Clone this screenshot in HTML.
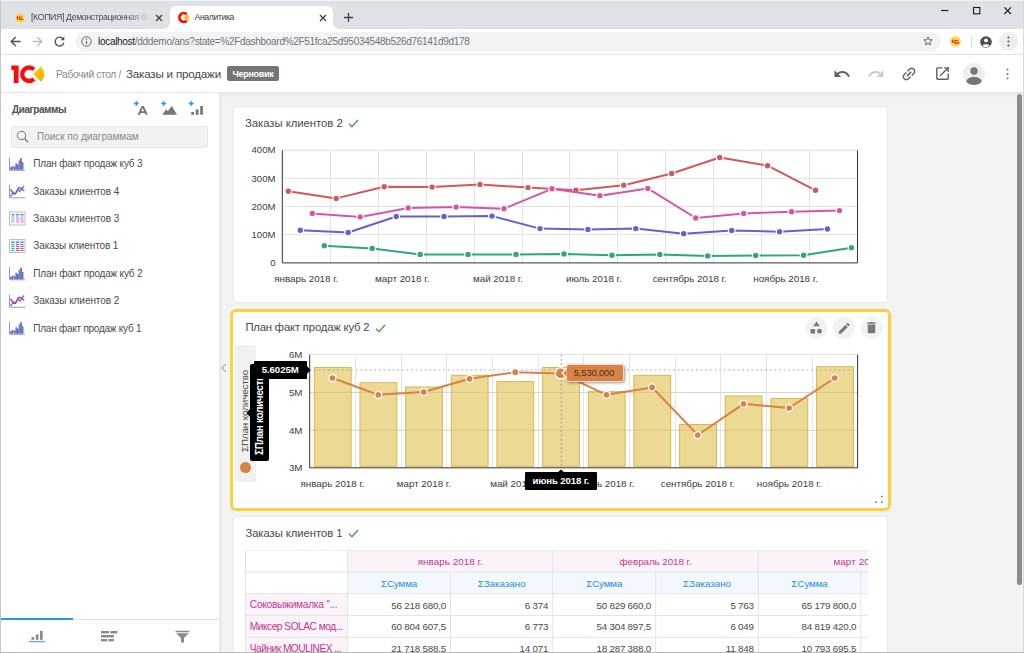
<!DOCTYPE html>
<html><head><meta charset="utf-8"><title>Аналитика</title>
<style>
*{box-sizing:border-box;margin:0;padding:0}
html,body{width:1024px;height:653px;overflow:hidden;background:#f3f3f3;font-family:"Liberation Sans",sans-serif;color:#444}
#win{position:absolute;left:0;top:0;width:1024px;height:653px;overflow:hidden;background:#f3f3f3}
.a{position:absolute}
.t{position:absolute;white-space:nowrap}
svg{position:absolute;overflow:visible}
.card{position:absolute;background:#fff;border:1px solid #e9e9e9;border-radius:3px}
</style></head><body><div id="win">
<!-- browser chrome -->
<div class="a" style="left:0;top:0;width:1024px;height:29px;background:#dee1e6"></div>
<div class="a" style="left:170px;top:6px;width:163px;height:24px;background:#fff;border-radius:6px 6px 0 0"></div>
<div class="a" style="left:164px;top:23px;width:6px;height:6px;background:radial-gradient(circle at 0 0,#dee1e6 5.5px,#fff 6px)"></div>
<div class="a" style="left:333px;top:23px;width:6px;height:6px;background:radial-gradient(circle at 100% 0,#dee1e6 5.5px,#fff 6px)"></div>
<svg style="left:15px;top:13px" width="10" height="10" viewBox="0 0 10 10"><circle cx="5" cy="5" r="4.6" fill="#fbd23c"/><circle cx="5" cy="5" r="4.6" fill="none" stroke="#f6e29a" stroke-width=".6"/><path d="M1.6 4.3l1-.5v2.6M6.9 4.6a1.4 1.4 0 1 0 0 1.6h1.6" fill="none" stroke="#e0241c" stroke-width="1.1"/></svg>
<span class="t" style="left:31.00px;top:12.45px;font-size:8.8px;line-height:11px;color:#4a4d51;letter-spacing:-0.389px;-webkit-mask-image:linear-gradient(90deg,#000 80%,transparent 100%);mask-image:linear-gradient(90deg,#000 80%,transparent 100%);">[КОПИЯ] Демонстрационная ба</span>
<svg style="left:155px;top:14px" width="8" height="8" viewBox="0 0 8 8"><path d="M1 1l6 6M7 1l-6 6" stroke="#3c4043" stroke-width="1.3" fill="none"/></svg>
<svg style="left:177px;top:11px" width="14" height="14" viewBox="0 0 14 14"><path d="M9.700 3.300A4.350 4.350 0 1 0 9.700 9.700" fill="none" stroke="#fa0a0a" stroke-width="2.700"/><path d="M6.300 6.500L10.800 2.900A6.200 6.200 0 0 1 10.800 10.100z" fill="#ffb914"/></svg>
<span class="t" style="left:194.50px;top:12.25px;font-size:8.8px;line-height:11px;color:#3c4043;letter-spacing:-0.451px;">Аналитика</span>
<svg style="left:319px;top:14px" width="8" height="8" viewBox="0 0 8 8"><path d="M1 1l6 6M7 1l-6 6" stroke="#3c4043" stroke-width="1.3" fill="none"/></svg>
<svg style="left:344.300px;top:13.300px" width="9" height="9" viewBox="0 0 9 9"><path d="M4.500 0v9M0 4.500h9" stroke="#3c4043" stroke-width="1.300" fill="none"/></svg>
<svg style="left:941px;top:6px" width="8" height="8" viewBox="0 0 8 8"><path d="M0 4.500h7.300" stroke="#1a1a1a" stroke-width="1.100" fill="none"/></svg>
<svg style="left:973px;top:7px" width="8" height="8" viewBox="0 0 8 8"><rect x=".5" y=".5" width="6.300" height="6.300" stroke="#1a1a1a" stroke-width="1.100" fill="none"/></svg>
<svg style="left:1004px;top:7px" width="8" height="8" viewBox="0 0 8 8"><path d="M.3 .3l6.700 6.700M7 .3l-6.700 6.700" stroke="#1a1a1a" stroke-width="1.100" fill="none"/></svg>
<div class="a" style="left:0;top:29px;width:1024px;height:26px;background:#fff;border-bottom:1px solid #e1e3e6"></div>
<div class="a" style="left:75px;top:32px;width:866px;height:19px;border-radius:10px;background:#f1f3f4"></div>
<svg style="left:10px;top:36px" width="11" height="11" viewBox="0 0 11 11"><path d="M10.5 5.500H1.500M5.700 1L1.200 5.500l4.500 4.500" stroke="#4a4d51" stroke-width="1.3" fill="none"/></svg>
<svg style="left:32px;top:36px" width="11" height="11" viewBox="0 0 11 11"><path d="M.5 5.500h9M5.300 1l4.500 4.500-4.500 4.500" stroke="#babcbe" stroke-width="1.3" fill="none"/></svg>
<svg style="left:54px;top:36px" width="11" height="11" viewBox="0 0 11 11"><path d="M9.300 3.200A4.400 4.400 0 1 0 9.900 6.600" stroke="#4a4d51" stroke-width="1.3" fill="none"/><path d="M10.300 .6v3.600H6.700z" fill="#4a4d51"/></svg>
<svg style="left:81px;top:36px" width="11" height="11" viewBox="0 0 11 11"><circle cx="5.500" cy="5.500" r="4.700" stroke="#5f6368" stroke-width="1" fill="none"/><path d="M5.500 4.800v3.200" stroke="#5f6368" stroke-width="1.200"/><circle cx="5.500" cy="3.200" r=".7" fill="#5f6368"/></svg>
<span class="t" style="left:98px;top:34.53px;font-size:10.0px;line-height:13px;letter-spacing:-0.296px;color:#70757a"><span style="color:#202124">localhost</span>/dddemo/ans?state=%2Fdashboard%2F51fca25d95034548b526d76141d9d178</span>
<svg style="left:922px;top:35px" width="12" height="12" viewBox="0 0 24 24"><path d="M22 9.240l-7.190-.62L12 2 9.190 8.630 2 9.240l5.460 4.730L5.820 21 12 17.270 18.180 21l-1.630-7.030L22 9.240zM12 15.400l-3.760 2.270 1-4.280-3.320-2.880 4.380-.38L12 6.100l1.710 4.040 4.380.38-3.320 2.880 1 4.280L12 15.400z" fill="#5f6368"/></svg>
<svg style="left:950px;top:36px" width="11" height="11" viewBox="0 0 10 10"><circle cx="5" cy="5" r="4.800" fill="#fbd64a"/><path d="M1.600 4.300l1-.5v2.600M6.900 4.600a1.400 1.400 0 1 0 0 1.600h1.600" fill="none" stroke="#e0241c" stroke-width="1.100"/></svg>
<div class="a" style="left:971px;top:36px;width:1px;height:11px;background:#dadce0"></div>
<svg style="left:980px;top:35.500px" width="12" height="12" viewBox="0 0 12 12"><circle cx="6" cy="6" r="5.800" fill="#4a4d51"/><circle cx="6" cy="4.400" r="1.900" fill="#fff"/><path d="M2.300 9.600a4.300 3 0 0 1 7.400 0A5.200 5.200 0 0 1 2.300 9.600z" fill="#fff"/></svg>
<div class="a" style="left:999px;top:32px;width:19px;height:19px;border-radius:10px;background:#eceef0"></div>
<svg style="left:1007px;top:36px" width="3" height="11" viewBox="0 0 3 11"><circle cx="1.500" cy="1.500" r="1.100" fill="#5f6368"/><circle cx="1.500" cy="5.500" r="1.100" fill="#5f6368"/><circle cx="1.500" cy="9.500" r="1.100" fill="#5f6368"/></svg>
<!-- app header -->
<div class="a" style="left:1px;top:55px;width:1022px;height:38px;background:#fff;border-bottom:1px solid #e4e4e4"></div>
<svg style="left:11px;top:64.500px" width="35" height="19" viewBox="0 0 35 19"><path d="M0.300 0.400H7.600V18.100H2.800V5H0.300z" fill="#fa0a0a"/><path d="M22.900 4.600A6.750 6.750 0 1 0 22.900 13.900" fill="none" stroke="#fa0a0a" stroke-width="4.300"/><defs><linearGradient id="lg" x1="0" y1="0" x2="0.300" y2="1"><stop offset="0" stop-color="#ffd400"/><stop offset="1" stop-color="#ffa600"/></linearGradient></defs><path d="M22.700 9L30 2A10.500 10.500 0 0 1 30 16.200z" fill="url(#lg)" stroke="url(#lg)" stroke-width="1" stroke-linejoin="round"/></svg>
<span class="t" style="left:56.00px;top:67.77px;font-size:10.2px;line-height:13px;color:#8a8a8a;letter-spacing:-0.335px;">Рабочий стол /</span>
<span class="t" style="left:126.00px;top:66.28px;font-size:11.6px;line-height:15px;color:#484848;letter-spacing:-0.192px;">Заказы и продажи</span>
<div class="a" style="left:227px;top:66px;width:52px;height:15px;border-radius:2px;background:#757575"></div>
<span class="t" style="left:232.50px;top:67.68px;font-size:9px;line-height:12px;color:#fff;font-weight:700;letter-spacing:-0.291px;">Черновик</span>
<svg style="left:833px;top:64.500px" width="18" height="18" viewBox="0 0 24 24"><path d="M12.500 8c-2.650 0-5.050.99-6.900 2.600L2 7v9h9l-3.620-3.620c1.390-1.160 3.160-1.880 5.120-1.880 3.540 0 6.550 2.310 7.600 5.500l2.370-.78C21.080 11.030 17.150 8 12.500 8z" fill="#616161"/></svg>
<svg style="left:867px;top:64.500px" width="18" height="18" viewBox="0 0 24 24"><path d="M18.400 10.600C16.550 8.990 14.150 8 11.500 8c-4.650 0-8.580 3.030-9.960 7.220L3.900 16c1.050-3.190 4.050-5.500 7.600-5.500 1.950 0 3.730.72 5.120 1.880L13 16h9V7l-3.600 3.600z" fill="#c9c9c9"/></svg>
<svg style="left:899.500px;top:64.800px" width="18" height="18" viewBox="0 0 24 24"><g transform="rotate(-45 12 12)"><path d="M3.900 12c0-1.710 1.390-3.100 3.100-3.100h4V7H7c-2.760 0-5 2.240-5 5s2.240 5 5 5h4v-1.900H7c-1.710 0-3.100-1.390-3.100-3.100zM8 13h8v-2H8v2zm9-6h-4v1.900h4c1.710 0 3.100 1.390 3.100 3.100s-1.390 3.100-3.100 3.100h-4V17h4c2.760 0 5-2.240 5-5s-2.240-5-5-5z" fill="#616161"/></g></svg>
<svg style="left:933.500px;top:64.700px" width="17" height="17" viewBox="0 0 24 24"><path d="M19 19H5V5h7V3H5c-1.110 0-2 .9-2 2v14c0 1.100.89 2 2 2h14c1.100 0 2-.9 2-2v-7h-2v7zM14 3v2h3.590l-9.830 9.830 1.410 1.410L19 6.410V10h2V3h-7z" fill="#616161"/></svg>
<svg style="left:963px;top:62.500px" width="22" height="22" viewBox="0 0 22 22"><defs><clipPath id="av"><circle cx="11" cy="11" r="11"/></clipPath></defs><circle cx="11" cy="11" r="11" fill="#eeeeee"/><g clip-path="url(#av)" fill="#757575"><circle cx="11" cy="8" r="3.700"/><ellipse cx="11" cy="19.300" rx="7.800" ry="5.600"/></g></svg>
<svg style="left:1005.500px;top:68px" width="3" height="12" viewBox="0 0 3 12"><circle cx="1.500" cy="1.600" r="1" fill="#757575"/><circle cx="1.500" cy="6" r="1" fill="#757575"/><circle cx="1.500" cy="10.400" r="1" fill="#757575"/></svg>
<!-- sidebar -->
<div class="a" style="left:219px;top:93px;width:805px;height:5px;background:linear-gradient(#e7e7e7,#f3f3f3)"></div>
<div class="a" style="left:219px;top:93px;width:4px;height:560px;background:linear-gradient(90deg,#e6e6e6,rgba(243,243,243,0))"></div>
<div class="a" style="left:1px;top:93px;width:218px;height:560px;background:#fff"></div>
<span class="t" style="left:12.00px;top:102.73px;font-size:10px;line-height:13px;color:#505050;font-weight:700;letter-spacing:-0.445px;">Диаграммы</span>
<svg style="left:0;top:0" width="220" height="130"><path d="M136.4 100.9L137.20000000000002 102.7L139.0 103.5L137.20000000000002 104.3L136.4 106.1L135.6 104.3L133.8 103.5L135.6 102.7z" fill="#2196f3" stroke="#2196f3" stroke-width=".5"/><path d="M163.7 100.9L164.5 102.7L166.29999999999998 103.5L164.5 104.3L163.7 106.1L162.89999999999998 104.3L161.1 103.5L162.89999999999998 102.7z" fill="#2196f3" stroke="#2196f3" stroke-width=".5"/><path d="M191.2 100.9L192.0 102.7L193.79999999999998 103.5L192.0 104.3L191.2 106.1L190.39999999999998 104.3L188.6 103.5L190.39999999999998 102.7z" fill="#2196f3" stroke="#2196f3" stroke-width=".5"/><path d="M137.600 114.800L141.600 106H143.800L147.800 114.800H145.500L144.700 112.900H140.700L139.900 114.800zM141.400 111.300H144L142.700 108.100z" fill="#757575"/><path d="M162.200 114.800L166.300 109.200L167.800 111.200L171.800 106.100L177 114.800z" fill="#757575"/><rect x="191.300" y="112" width="2.700" height="2.800" fill="#757575"/><rect x="195.800" y="109.400" width="2.700" height="5.400" fill="#757575"/><rect x="200.200" y="106" width="2.700" height="8.800" fill="#757575"/></svg>
<div class="a" style="left:11px;top:126px;width:197px;height:22px;border-radius:3px;background:#f2f2f2;border:1px solid #e8e8e8"></div>
<svg style="left:16px;top:130px" width="13" height="13" viewBox="0 0 13 13"><circle cx="5.500" cy="5.500" r="4.200" stroke="#757575" stroke-width="1" fill="none"/><path d="M8.600 8.600L12 12" stroke="#757575" stroke-width="1.400"/></svg>
<span class="t" style="left:37.00px;top:130.34px;font-size:10px;line-height:13px;color:#8a8a8a;letter-spacing:-0.036px;">Поиск по диаграммам</span>
<span class="t" style="left:33.30px;top:157.44px;font-size:10px;line-height:13px;color:#4c4c4c;letter-spacing:-0.199px;">План факт продаж куб 3</span>
<span class="t" style="left:33.30px;top:184.78px;font-size:10px;line-height:13px;color:#4c4c4c;letter-spacing:-0.051px;">Заказы клиентов 4</span>
<span class="t" style="left:33.30px;top:212.13px;font-size:10px;line-height:13px;color:#4c4c4c;letter-spacing:-0.051px;">Заказы клиентов 3</span>
<span class="t" style="left:33.30px;top:239.49px;font-size:10px;line-height:13px;color:#4c4c4c;letter-spacing:-0.110px;">Заказы клиентов 1</span>
<span class="t" style="left:33.30px;top:266.83px;font-size:10px;line-height:13px;color:#4c4c4c;letter-spacing:-0.199px;">План факт продаж куб 2</span>
<span class="t" style="left:33.30px;top:294.19px;font-size:10px;line-height:13px;color:#4c4c4c;letter-spacing:-0.051px;">Заказы клиентов 2</span>
<span class="t" style="left:33.30px;top:321.54px;font-size:10px;line-height:13px;color:#4c4c4c;letter-spacing:-0.244px;">План факт продаж куб 1</span>
<svg style="left:0;top:0" width="220" height="350"><path d="M9.500 157.5V170.3H25" stroke="#9e9e9e" stroke-width="1" fill="none"/><rect x="10.2" y="167.10" width="1.700" height="2.6" fill="#c2388f"/><rect x="11.8" y="165.90" width="1.700" height="3.8" fill="#2196f3"/><rect x="13.8" y="166.50" width="1.700" height="3.2" fill="#c2388f"/><rect x="15.4" y="163.30" width="1.700" height="6.4" fill="#2196f3"/><rect x="17.0" y="164.50" width="1.700" height="5.2" fill="#c2388f"/><rect x="18.6" y="160.50" width="1.700" height="9.2" fill="#2196f3"/><rect x="20.2" y="158.30" width="1.700" height="11.4" fill="#c2388f"/><rect x="21.8" y="162.30" width="1.700" height="7.4" fill="#2196f3"/><path d="M9.500 185.0V197.8H25" stroke="#9e9e9e" stroke-width="1" fill="none"/><path d="M10.500 196.5L13.300 192.5L14.800 194.0L18 189.5L19.800 191.5L24 186.0" stroke="#2196f3" stroke-width="1.350" fill="none"/><path d="M10.500 189.5L13.500 193.5L15.500 193.8L18.500 188.0L20.500 188.0L24.300 191.0" stroke="#c2388f" stroke-width="1.350" fill="none"/><rect x="9.500" y="212.0" width="15.500" height="13" fill="#fff" stroke="#bdbdbd" stroke-width="1"/><rect x="11.3" y="214.1" width="3.200" height="1.300" fill="#2196f3"/><rect x="11.3" y="216.1" width="3.200" height="7" fill="#b3d8f7"/><rect x="16.0" y="214.1" width="3.200" height="1.300" fill="#2196f3"/><rect x="16.0" y="216.1" width="3.200" height="7" fill="#ebb8d8"/><rect x="20.4" y="214.1" width="3.200" height="1.300" fill="#2196f3"/><rect x="20.4" y="216.1" width="3.200" height="7" fill="#ebb8d8"/><rect x="9.500" y="239.5" width="15.500" height="13" fill="#fff" stroke="#bdbdbd" stroke-width="1"/><rect x="11.3" y="241.4" width="3.200" height="1.500" fill="#2196f3"/><rect x="11.3" y="243.90" width="3.200" height="1" fill="#2196f3"/><rect x="11.3" y="245.90" width="3.200" height="1" fill="#2196f3"/><rect x="11.3" y="247.90" width="3.200" height="1" fill="#2196f3"/><rect x="11.3" y="249.90" width="3.200" height="1" fill="#2196f3"/><rect x="16.0" y="241.4" width="3.200" height="1.500" fill="#2196f3"/><rect x="16.0" y="243.90" width="3.200" height="1" fill="#c2388f"/><rect x="16.0" y="245.90" width="3.200" height="1" fill="#c2388f"/><rect x="16.0" y="247.90" width="3.200" height="1" fill="#c2388f"/><rect x="16.0" y="249.90" width="3.200" height="1" fill="#c2388f"/><rect x="20.4" y="241.4" width="3.200" height="1.500" fill="#2196f3"/><rect x="20.4" y="243.90" width="3.200" height="1" fill="#c2388f"/><rect x="20.4" y="245.90" width="3.200" height="1" fill="#c2388f"/><rect x="20.4" y="247.90" width="3.200" height="1" fill="#c2388f"/><rect x="20.4" y="249.90" width="3.200" height="1" fill="#c2388f"/><path d="M9.500 267.0V279.8H25" stroke="#9e9e9e" stroke-width="1" fill="none"/><rect x="10.2" y="276.60" width="1.700" height="2.6" fill="#c2388f"/><rect x="11.8" y="275.40" width="1.700" height="3.8" fill="#2196f3"/><rect x="13.8" y="276.00" width="1.700" height="3.2" fill="#c2388f"/><rect x="15.4" y="272.80" width="1.700" height="6.4" fill="#2196f3"/><rect x="17.0" y="274.00" width="1.700" height="5.2" fill="#c2388f"/><rect x="18.6" y="270.00" width="1.700" height="9.2" fill="#2196f3"/><rect x="20.2" y="267.80" width="1.700" height="11.4" fill="#c2388f"/><rect x="21.8" y="271.80" width="1.700" height="7.4" fill="#2196f3"/><path d="M9.500 294.5V307.3H25" stroke="#9e9e9e" stroke-width="1" fill="none"/><path d="M10.500 306.0L13.300 302.0L14.800 303.5L18 299.0L19.800 301.0L24 295.5" stroke="#2196f3" stroke-width="1.350" fill="none"/><path d="M10.500 299.0L13.500 303.0L15.500 303.3L18.500 297.5L20.500 297.5L24.300 300.5" stroke="#c2388f" stroke-width="1.350" fill="none"/><path d="M9.500 321.5V334.3H25" stroke="#9e9e9e" stroke-width="1" fill="none"/><rect x="10.2" y="331.10" width="1.700" height="2.6" fill="#c2388f"/><rect x="11.8" y="329.90" width="1.700" height="3.8" fill="#2196f3"/><rect x="13.8" y="330.50" width="1.700" height="3.2" fill="#c2388f"/><rect x="15.4" y="327.30" width="1.700" height="6.4" fill="#2196f3"/><rect x="17.0" y="328.50" width="1.700" height="5.2" fill="#c2388f"/><rect x="18.6" y="324.50" width="1.700" height="9.2" fill="#2196f3"/><rect x="20.2" y="322.30" width="1.700" height="11.4" fill="#c2388f"/><rect x="21.8" y="326.30" width="1.700" height="7.4" fill="#2196f3"/></svg>
<div class="a" style="left:1px;top:619px;width:218px;height:1px;background:#e0e0e0"></div>
<div class="a" style="left:1px;top:618.400px;width:72px;height:1.600px;background:#2196f3"></div>
<svg style="left:0;top:620px" width="220" height="33"><rect x="31.500" y="17" width="2.700" height="2.800" fill="#8a8a8a"/><rect x="35.800" y="14.400" width="2.700" height="5.400" fill="#8a8a8a"/><rect x="40" y="10.800" width="2.700" height="9" fill="#8a8a8a"/><rect x="29" y="21.200" width="16" height="1" fill="#2196f3"/><rect x="101" y="11" width="8" height="2.400" fill="#8a8a8a"/><rect x="110.300" y="11" width="7" height="2.400" fill="#8a8a8a"/><rect x="101" y="15" width="13" height="2.400" fill="#8a8a8a"/><rect x="101" y="19" width="6" height="2.400" fill="#8a8a8a"/><rect x="108.300" y="19" width="5.500" height="2.400" fill="#8a8a8a"/><path d="M175.600 10.800H189.400V12.300H175.600zM176.300 13.300H188.700L184 18V22.500H181V18z" fill="#8a8a8a"/></svg>
<svg style="left:221px;top:363px" width="6" height="10" viewBox="0 0 6 10"><path d="M4.800 1L1.200 5l3.600 4" stroke="#9e9e9e" stroke-width="1.100" fill="none"/></svg>
<!-- card 1 -->
<div class="card" style="left:233px;top:106px;width:655px;height:197px"></div>
<span class="t" style="left:245.00px;top:115.98px;font-size:11.3px;line-height:15px;color:#4a4a4a;letter-spacing:-0.027px;">Заказы клиентов 2</span>
<svg style="left:348.100px;top:119.300px" width="11" height="9" viewBox="0 0 11 9"><path d="M1 4.800L4 7.800L10 1" stroke="#43a047" stroke-width="1.300" fill="none"/></svg>
<svg style="left:0;top:0" width="1024" height="310"><path d="M282.3 234.7H857.5" stroke="#e4e4e4" stroke-width="1" shape-rendering="crispEdges"/><path d="M282.3 206.6H857.5" stroke="#e4e4e4" stroke-width="1" shape-rendering="crispEdges"/><path d="M282.3 178.4H857.5" stroke="#e4e4e4" stroke-width="1" shape-rendering="crispEdges"/><path d="M282.3 150.3H857.5" stroke="#e4e4e4" stroke-width="1" shape-rendering="crispEdges"/><path d="M330.2 150.3V262.9" stroke="#e4e4e4" stroke-width="1" shape-rendering="crispEdges"/><path d="M378.2 150.3V262.9" stroke="#e4e4e4" stroke-width="1" shape-rendering="crispEdges"/><path d="M426.1 150.3V262.9" stroke="#e4e4e4" stroke-width="1" shape-rendering="crispEdges"/><path d="M474.0 150.3V262.9" stroke="#e4e4e4" stroke-width="1" shape-rendering="crispEdges"/><path d="M522.0 150.3V262.9" stroke="#e4e4e4" stroke-width="1" shape-rendering="crispEdges"/><path d="M569.9 150.3V262.9" stroke="#e4e4e4" stroke-width="1" shape-rendering="crispEdges"/><path d="M617.8 150.3V262.9" stroke="#e4e4e4" stroke-width="1" shape-rendering="crispEdges"/><path d="M665.7 150.3V262.9" stroke="#e4e4e4" stroke-width="1" shape-rendering="crispEdges"/><path d="M713.7 150.3V262.9" stroke="#e4e4e4" stroke-width="1" shape-rendering="crispEdges"/><path d="M761.6 150.3V262.9" stroke="#e4e4e4" stroke-width="1" shape-rendering="crispEdges"/><path d="M809.5 150.3V262.9" stroke="#e4e4e4" stroke-width="1" shape-rendering="crispEdges"/><path d="M282.3 150.3H857.5" stroke="#e2e2e2" stroke-width="1" fill="none"/><path d="M282.3 150.3V262.9H857.5V150.3" stroke="#333" stroke-width="1" fill="none"/><path d="M288.3 191.2L336.2 198.4L384.2 186.7L432.1 187.1L480.0 184.5L528.0 187.6L575.9 190.3L623.8 185.2L671.7 173.5L719.7 157.5L767.6 165.7L815.5 190.3" stroke="#d2585a" stroke-width="2" fill="none" stroke-linejoin="round"/><circle cx="288.3" cy="191.2" r="3.300" fill="#d2585a" stroke="#fff" stroke-width="1.200"/><circle cx="336.2" cy="198.4" r="3.300" fill="#d2585a" stroke="#fff" stroke-width="1.200"/><circle cx="384.2" cy="186.7" r="3.300" fill="#d2585a" stroke="#fff" stroke-width="1.200"/><circle cx="432.1" cy="187.1" r="3.300" fill="#d2585a" stroke="#fff" stroke-width="1.200"/><circle cx="480.0" cy="184.5" r="3.300" fill="#d2585a" stroke="#fff" stroke-width="1.200"/><circle cx="528.0" cy="187.6" r="3.300" fill="#d2585a" stroke="#fff" stroke-width="1.200"/><circle cx="575.9" cy="190.3" r="3.300" fill="#d2585a" stroke="#fff" stroke-width="1.200"/><circle cx="623.8" cy="185.2" r="3.300" fill="#d2585a" stroke="#fff" stroke-width="1.200"/><circle cx="671.7" cy="173.5" r="3.300" fill="#d2585a" stroke="#fff" stroke-width="1.200"/><circle cx="719.7" cy="157.5" r="3.300" fill="#d2585a" stroke="#fff" stroke-width="1.200"/><circle cx="767.6" cy="165.7" r="3.300" fill="#d2585a" stroke="#fff" stroke-width="1.200"/><circle cx="815.5" cy="190.3" r="3.300" fill="#d2585a" stroke="#fff" stroke-width="1.200"/><path d="M312.3 213.4L360.2 216.9L408.2 207.9L456.1 207.1L504.0 208.7L552.0 188.8L599.9 195.8L647.8 188.4L695.7 218.0L743.7 213.4L791.6 211.8L839.5 210.6" stroke="#d556a8" stroke-width="2" fill="none" stroke-linejoin="round"/><circle cx="312.3" cy="213.4" r="3.300" fill="#d556a8" stroke="#fff" stroke-width="1.200"/><circle cx="360.2" cy="216.9" r="3.300" fill="#d556a8" stroke="#fff" stroke-width="1.200"/><circle cx="408.2" cy="207.9" r="3.300" fill="#d556a8" stroke="#fff" stroke-width="1.200"/><circle cx="456.1" cy="207.1" r="3.300" fill="#d556a8" stroke="#fff" stroke-width="1.200"/><circle cx="504.0" cy="208.7" r="3.300" fill="#d556a8" stroke="#fff" stroke-width="1.200"/><circle cx="552.0" cy="188.8" r="3.300" fill="#d556a8" stroke="#fff" stroke-width="1.200"/><circle cx="599.9" cy="195.8" r="3.300" fill="#d556a8" stroke="#fff" stroke-width="1.200"/><circle cx="647.8" cy="188.4" r="3.300" fill="#d556a8" stroke="#fff" stroke-width="1.200"/><circle cx="695.7" cy="218.0" r="3.300" fill="#d556a8" stroke="#fff" stroke-width="1.200"/><circle cx="743.7" cy="213.4" r="3.300" fill="#d556a8" stroke="#fff" stroke-width="1.200"/><circle cx="791.6" cy="211.8" r="3.300" fill="#d556a8" stroke="#fff" stroke-width="1.200"/><circle cx="839.5" cy="210.6" r="3.300" fill="#d556a8" stroke="#fff" stroke-width="1.200"/><path d="M300.3 230.2L348.2 232.5L396.2 216.5L444.1 216.5L492.0 216.1L540.0 228.6L587.9 229.4L635.8 228.6L683.7 233.7L731.7 230.5L779.6 231.7L827.5 229.0" stroke="#6560cf" stroke-width="2" fill="none" stroke-linejoin="round"/><circle cx="300.3" cy="230.2" r="3.300" fill="#6560cf" stroke="#fff" stroke-width="1.200"/><circle cx="348.2" cy="232.5" r="3.300" fill="#6560cf" stroke="#fff" stroke-width="1.200"/><circle cx="396.2" cy="216.5" r="3.300" fill="#6560cf" stroke="#fff" stroke-width="1.200"/><circle cx="444.1" cy="216.5" r="3.300" fill="#6560cf" stroke="#fff" stroke-width="1.200"/><circle cx="492.0" cy="216.1" r="3.300" fill="#6560cf" stroke="#fff" stroke-width="1.200"/><circle cx="540.0" cy="228.6" r="3.300" fill="#6560cf" stroke="#fff" stroke-width="1.200"/><circle cx="587.9" cy="229.4" r="3.300" fill="#6560cf" stroke="#fff" stroke-width="1.200"/><circle cx="635.8" cy="228.6" r="3.300" fill="#6560cf" stroke="#fff" stroke-width="1.200"/><circle cx="683.7" cy="233.7" r="3.300" fill="#6560cf" stroke="#fff" stroke-width="1.200"/><circle cx="731.7" cy="230.5" r="3.300" fill="#6560cf" stroke="#fff" stroke-width="1.200"/><circle cx="779.6" cy="231.7" r="3.300" fill="#6560cf" stroke="#fff" stroke-width="1.200"/><circle cx="827.5" cy="229.0" r="3.300" fill="#6560cf" stroke="#fff" stroke-width="1.200"/><path d="M324.3 245.8L372.2 248.5L420.2 254.4L468.1 254.4L516.0 254.4L564.0 254.0L611.9 255.2L659.8 254.4L707.7 255.9L755.7 255.5L803.6 255.2L851.5 247.7" stroke="#2fa77c" stroke-width="2" fill="none" stroke-linejoin="round"/><circle cx="324.3" cy="245.8" r="3.300" fill="#2fa77c" stroke="#fff" stroke-width="1.200"/><circle cx="372.2" cy="248.5" r="3.300" fill="#2fa77c" stroke="#fff" stroke-width="1.200"/><circle cx="420.2" cy="254.4" r="3.300" fill="#2fa77c" stroke="#fff" stroke-width="1.200"/><circle cx="468.1" cy="254.4" r="3.300" fill="#2fa77c" stroke="#fff" stroke-width="1.200"/><circle cx="516.0" cy="254.4" r="3.300" fill="#2fa77c" stroke="#fff" stroke-width="1.200"/><circle cx="564.0" cy="254.0" r="3.300" fill="#2fa77c" stroke="#fff" stroke-width="1.200"/><circle cx="611.9" cy="255.2" r="3.300" fill="#2fa77c" stroke="#fff" stroke-width="1.200"/><circle cx="659.8" cy="254.4" r="3.300" fill="#2fa77c" stroke="#fff" stroke-width="1.200"/><circle cx="707.7" cy="255.9" r="3.300" fill="#2fa77c" stroke="#fff" stroke-width="1.200"/><circle cx="755.7" cy="255.5" r="3.300" fill="#2fa77c" stroke="#fff" stroke-width="1.200"/><circle cx="803.6" cy="255.2" r="3.300" fill="#2fa77c" stroke="#fff" stroke-width="1.200"/><circle cx="851.5" cy="247.7" r="3.300" fill="#2fa77c" stroke="#fff" stroke-width="1.200"/></svg>
<span class="t" style="left:270.16px;top:256.97px;font-size:9.6px;line-height:12px;color:#3c3c3c;">0</span>
<span class="t" style="left:251.49px;top:228.82px;font-size:9.6px;line-height:12px;color:#3c3c3c;">100M</span>
<span class="t" style="left:251.49px;top:200.67px;font-size:9.6px;line-height:12px;color:#3c3c3c;">200M</span>
<span class="t" style="left:251.49px;top:172.52px;font-size:9.6px;line-height:12px;color:#3c3c3c;">300M</span>
<span class="t" style="left:251.49px;top:144.37px;font-size:9.6px;line-height:12px;color:#3c3c3c;">400M</span>
<span class="t" style="left:274.18px;top:271.80px;font-size:9.8px;line-height:13px;color:#3c3c3c;">январь 2018 г.</span>
<span class="t" style="left:375.00px;top:271.80px;font-size:9.8px;line-height:13px;color:#3c3c3c;">март 2018 г.</span>
<span class="t" style="left:472.98px;top:271.80px;font-size:9.8px;line-height:13px;color:#3c3c3c;">май 2018 г.</span>
<span class="t" style="left:565.95px;top:271.80px;font-size:9.8px;line-height:13px;color:#3c3c3c;">июль 2018 г.</span>
<span class="t" style="left:652.67px;top:271.80px;font-size:9.8px;line-height:13px;color:#3c3c3c;">сентябрь 2018 г.</span>
<span class="t" style="left:753.22px;top:271.80px;font-size:9.8px;line-height:13px;color:#3c3c3c;">ноябрь 2018 г.</span>
<!-- card 2 -->
<div class="card" style="left:230px;top:309px;width:661px;height:202px;border:3px solid #fbd140;border-radius:6px"></div>
<span class="t" style="left:245.40px;top:320.38px;font-size:11.3px;line-height:15px;color:#4a4a4a;letter-spacing:-0.187px;">План факт продаж куб 2</span>
<svg style="left:375px;top:323.500px" width="11" height="9" viewBox="0 0 11 9"><path d="M1 4.800L4 7.800L10 1" stroke="#43a047" stroke-width="1.300" fill="none"/></svg>
<div class="a" style="left:805.6px;top:317px;width:21.600px;height:21.600px;border-radius:50%;background:#f2f2f2"></div>
<div class="a" style="left:833.2px;top:317px;width:21.600px;height:21.600px;border-radius:50%;background:#f2f2f2"></div>
<div class="a" style="left:860.7px;top:317px;width:21.600px;height:21.600px;border-radius:50%;background:#f2f2f2"></div>
<svg style="left:810px;top:321px" width="13" height="13" viewBox="0 0 13 13"><path d="M6.500 0.500L9.900 5.300H3.100z" fill="#787878"/><rect x="0.600" y="8" width="4.500" height="4.500" fill="#787878"/><circle cx="9.500" cy="10.200" r="2.400" fill="#787878"/></svg>
<svg style="left:836.800px;top:320.800px" width="14.500" height="14.500" viewBox="0 0 24 24"><path d="M3 17.250V21h3.750L17.810 9.940l-3.750-3.750L3 17.250zM20.710 7.040a.996.996 0 0 0 0-1.410l-2.340-2.340a.996.996 0 0 0-1.410 0l-1.830 1.830 3.750 3.750 1.830-1.830z" fill="#787878"/></svg>
<svg style="left:864px;top:320.300px" width="15" height="15" viewBox="0 0 24 24"><path d="M6 19c0 1.100.9 2 2 2h8c1.100 0 2-.9 2-2V7H6v12zM19 4h-3.500l-1-1h-5l-1 1H5v2h14V4z" fill="#787878"/></svg>
<div class="a" style="left:234.500px;top:345px;width:21.500px;height:136.500px;background:#f1f1f1"></div>
<span class="t" style="left:239.200px;top:451.500px;transform:rotate(-90deg);transform-origin:0 0;font-size:9.800px;line-height:12px;color:#4a4a4a;letter-spacing:-0.108px">ΣПлан количество</span>
<div class="a" style="left:239.800px;top:462.200px;width:10.800px;height:10.800px;border-radius:50%;background:#d98247"></div>
<svg style="left:0;top:0" width="1024" height="520"><path d="M309.7 430.1H857.6" stroke="#e4e4e4" stroke-width="1" shape-rendering="crispEdges"/><path d="M309.7 392.4H857.6" stroke="#e4e4e4" stroke-width="1" shape-rendering="crispEdges"/><path d="M309.7 354.7H857.6" stroke="#e4e4e4" stroke-width="1" shape-rendering="crispEdges"/><path d="M355.4 354.7V467.8" stroke="#e4e4e4" stroke-width="1" shape-rendering="crispEdges"/><path d="M401.0 354.7V467.8" stroke="#e4e4e4" stroke-width="1" shape-rendering="crispEdges"/><path d="M446.7 354.7V467.8" stroke="#e4e4e4" stroke-width="1" shape-rendering="crispEdges"/><path d="M492.3 354.7V467.8" stroke="#e4e4e4" stroke-width="1" shape-rendering="crispEdges"/><path d="M538.0 354.7V467.8" stroke="#e4e4e4" stroke-width="1" shape-rendering="crispEdges"/><path d="M583.7 354.7V467.8" stroke="#e4e4e4" stroke-width="1" shape-rendering="crispEdges"/><path d="M629.3 354.7V467.8" stroke="#e4e4e4" stroke-width="1" shape-rendering="crispEdges"/><path d="M675.0 354.7V467.8" stroke="#e4e4e4" stroke-width="1" shape-rendering="crispEdges"/><path d="M720.6 354.7V467.8" stroke="#e4e4e4" stroke-width="1" shape-rendering="crispEdges"/><path d="M766.3 354.7V467.8" stroke="#e4e4e4" stroke-width="1" shape-rendering="crispEdges"/><path d="M812.0 354.7V467.8" stroke="#e4e4e4" stroke-width="1" shape-rendering="crispEdges"/><rect x="314.3" y="367.5" width="36.800" height="98.8" fill="#ebd994" stroke="#d8b94e" stroke-width="1"/><rect x="360.0" y="382.7" width="36.800" height="83.6" fill="#ebd994" stroke="#d8b94e" stroke-width="1"/><rect x="405.6" y="387.0" width="36.800" height="79.3" fill="#ebd994" stroke="#d8b94e" stroke-width="1"/><rect x="451.3" y="375.3" width="36.800" height="91.0" fill="#ebd994" stroke="#d8b94e" stroke-width="1"/><rect x="496.9" y="381.6" width="36.800" height="84.7" fill="#ebd994" stroke="#d8b94e" stroke-width="1"/><rect x="542.6" y="367.5" width="36.800" height="98.8" fill="#ebd994" stroke="#d8b94e" stroke-width="1"/><rect x="588.3" y="391.7" width="36.800" height="74.6" fill="#ebd994" stroke="#d8b94e" stroke-width="1"/><rect x="633.9" y="375.3" width="36.800" height="91.0" fill="#ebd994" stroke="#d8b94e" stroke-width="1"/><rect x="679.6" y="424.5" width="36.800" height="41.8" fill="#ebd994" stroke="#d8b94e" stroke-width="1"/><rect x="725.2" y="396.0" width="36.800" height="70.3" fill="#ebd994" stroke="#d8b94e" stroke-width="1"/><rect x="770.9" y="398.4" width="36.800" height="67.9" fill="#ebd994" stroke="#d8b94e" stroke-width="1"/><rect x="816.6" y="366.7" width="36.800" height="99.6" fill="#ebd994" stroke="#d8b94e" stroke-width="1"/><path d="M309.7 430.1H857.6" stroke="rgba(120,100,40,.13)" stroke-width="1"/><path d="M309.7 392.4H857.6" stroke="rgba(120,100,40,.13)" stroke-width="1"/><path d="M309.7 354.7V467.8H857.6V354.7" stroke="#333" stroke-width="1" fill="none"/><path d="M309.7 370H857.6" stroke="#a8a8a8" stroke-width="1" stroke-dasharray="1.800 2.800"/><path d="M561.300 354.7V467.8" stroke="#9a9a9a" stroke-width="1" stroke-dasharray="1.800 2.400"/><path d="M332.5 378.0L378.2 394.8L423.8 392.0L469.5 378.8L515.2 372.2L560.8 373.4L606.5 394.8L652.1 387.4L697.8 435.0L743.5 403.8L789.1 408.0L834.8 378.0" stroke="#d98247" stroke-width="2" fill="none" stroke-linejoin="round"/><circle cx="332.5" cy="378.0" r="3.500" fill="#d98247" stroke="#fff" stroke-width="1.300"/><circle cx="378.2" cy="394.8" r="3.500" fill="#d98247" stroke="#fff" stroke-width="1.300"/><circle cx="423.8" cy="392.0" r="3.500" fill="#d98247" stroke="#fff" stroke-width="1.300"/><circle cx="469.5" cy="378.8" r="3.500" fill="#d98247" stroke="#fff" stroke-width="1.300"/><circle cx="515.2" cy="372.2" r="3.500" fill="#d98247" stroke="#fff" stroke-width="1.300"/><circle cx="560.8" cy="373.4" r="5.600" fill="#d98247" stroke="#fff" stroke-width="1.400"/><circle cx="606.5" cy="394.8" r="3.500" fill="#d98247" stroke="#fff" stroke-width="1.300"/><circle cx="652.1" cy="387.4" r="3.500" fill="#d98247" stroke="#fff" stroke-width="1.300"/><circle cx="697.8" cy="435.0" r="3.500" fill="#d98247" stroke="#fff" stroke-width="1.300"/><circle cx="743.5" cy="403.8" r="3.500" fill="#d98247" stroke="#fff" stroke-width="1.300"/><circle cx="789.1" cy="408.0" r="3.500" fill="#d98247" stroke="#fff" stroke-width="1.300"/><circle cx="834.8" cy="378.0" r="3.500" fill="#d98247" stroke="#fff" stroke-width="1.300"/></svg>
<span class="t" style="left:288.89px;top:461.30px;font-size:9.8px;line-height:13px;color:#3c3c3c;">3M</span>
<span class="t" style="left:288.89px;top:423.60px;font-size:9.8px;line-height:13px;color:#3c3c3c;">4M</span>
<span class="t" style="left:288.89px;top:385.90px;font-size:9.8px;line-height:13px;color:#3c3c3c;">5M</span>
<span class="t" style="left:288.89px;top:348.20px;font-size:9.8px;line-height:13px;color:#3c3c3c;">6M</span>
<span class="t" style="left:300.45px;top:476.80px;font-size:9.8px;line-height:13px;color:#3c3c3c;">январь 2018 г.</span>
<span class="t" style="left:396.72px;top:476.80px;font-size:9.8px;line-height:13px;color:#3c3c3c;">март 2018 г.</span>
<span class="t" style="left:490.17px;top:476.80px;font-size:9.8px;line-height:13px;color:#3c3c3c;">май 2018 г.</span>
<span class="t" style="left:578.60px;top:476.80px;font-size:9.8px;line-height:13px;color:#3c3c3c;">июль 2018 г.</span>
<span class="t" style="left:660.77px;top:476.80px;font-size:9.8px;line-height:13px;color:#3c3c3c;">сентябрь 2018 г.</span>
<span class="t" style="left:756.79px;top:476.80px;font-size:9.8px;line-height:13px;color:#3c3c3c;">ноябрь 2018 г.</span>
<div class="a" style="left:249.500px;top:363.600px;width:19.500px;height:97.600px;background:#000;border-radius:2px;overflow:hidden"><span class="t" style="left:3.200px;top:91.300px;transform:rotate(-90deg);transform-origin:0 0;font-size:10px;line-height:13px;font-weight:700;color:#fff;letter-spacing:-0.340px">ΣПлан количество</span></div>
<svg style="left:246px;top:408.600px" width="4" height="8" viewBox="0 0 4 8"><path d="M4 0L0.500 4L4 8z" fill="#000"/></svg>
<div class="a" style="left:254.200px;top:361px;width:52.800px;height:18px;background:#000;border-radius:1px"></div>
<svg style="left:307px;top:366px" width="4" height="8" viewBox="0 0 4 8"><path d="M0 0L3.500 4L0 8z" fill="#000"/></svg>
<span class="t" style="left:261.70px;top:364.27px;font-size:9.6px;line-height:12px;color:#fff;font-weight:700;letter-spacing:-0.051px;">5.6025M</span>
<div class="a" style="left:565.500px;top:363.600px;width:58px;height:18.700px;background:#d98247;border:1px solid #f3dccb;border-radius:3px;box-shadow:1px 1px 3px rgba(0,0,0,.4)"></div>
<svg style="left:560px;top:366px" width="8" height="14" viewBox="0 0 8 14"><path d="M6.500 2.300L2.300 7L6.500 11.700" fill="#d98247" stroke="#fff" stroke-width="1.300"/></svg>
<span class="t" style="left:573.85px;top:367.44px;font-size:9.4px;line-height:12px;color:#4a3018;letter-spacing:-0.146px;">5,530,000</span>
<div class="a" style="left:524.700px;top:472.200px;width:72.300px;height:18px;background:#000;border-radius:1px"></div>
<svg style="left:556.500px;top:469px" width="8" height="4" viewBox="0 0 8 4"><path d="M0 4L4 0.500L8 4z" fill="#000"/></svg>
<span class="t" style="left:532.50px;top:475.27px;font-size:9.6px;line-height:12px;color:#fff;font-weight:700;letter-spacing:-0.133px;">июнь 2018 г.</span>
<svg style="left:874px;top:494px" width="10" height="10" viewBox="0 0 10 10"><rect x="7" y="1.800" width="1.500" height="1.500" fill="#666"/><rect x="1.400" y="7.400" width="1.500" height="1.500" fill="#666"/><rect x="7" y="7.400" width="1.500" height="1.500" fill="#666"/></svg>
<!-- card 3 -->
<div class="card" style="left:233px;top:516px;width:655px;height:150px"></div>
<span class="t" style="left:245.40px;top:525.88px;font-size:11.3px;line-height:15px;color:#4a4a4a;letter-spacing:-0.068px;">Заказы клиентов 1</span>
<svg style="left:348px;top:528.800px" width="11" height="9" viewBox="0 0 11 9"><path d="M1 4.800L4 7.800L10 1" stroke="#43a047" stroke-width="1.300" fill="none"/></svg>
<div class="a" style="left:245px;top:550px;width:623px;height:103px;overflow:hidden">
<div class="a" style="left:102.7px;top:0.2px;width:552.3px;height:21.7px;background:#faf4f8"></div>
<div class="a" style="left:102.7px;top:21.9px;width:552.3px;height:21.8px;background:#f2f8fd"></div>
<div class="a" style="left:0.4px;top:43.7px;width:102.3px;height:65.5px;background:#faf4f8"></div>
<svg style="left:0;top:0" width="640" height="110"><path d="M0 0.2H640" stroke="#e4e4e4" stroke-width="1"/><path d="M0 21.9H640" stroke="#e4e4e4" stroke-width="1"/><path d="M0 43.7H640" stroke="#e4e4e4" stroke-width="1"/><path d="M0 65.5H640" stroke="#e4e4e4" stroke-width="1"/><path d="M0 87.3H640" stroke="#e4e4e4" stroke-width="1"/><path d="M0 109.2H640" stroke="#e4e4e4" stroke-width="1"/><path d="M0.4 0.2V110" stroke="#e4e4e4" stroke-width="1"/><path d="M102.7 0.2V110" stroke="#e4e4e4" stroke-width="1"/><path d="M205.5 21.9V110" stroke="#e4e4e4" stroke-width="1"/><path d="M307.8 0.2V110" stroke="#e4e4e4" stroke-width="1"/><path d="M410.7 21.9V110" stroke="#e4e4e4" stroke-width="1"/><path d="M513.4 0.2V110" stroke="#e4e4e4" stroke-width="1"/><path d="M615.8 21.9V110" stroke="#e4e4e4" stroke-width="1"/><path d="M0.400 0V22" stroke="#e4e4e4" stroke-width="1"/></svg>
</div>
<span class="t" style="left:417.75px;top:554.90px;font-size:9.8px;line-height:13px;color:#c2388f;letter-spacing:0.059px;">январь 2018 г.</span>
<span class="t" style="left:619.60px;top:554.90px;font-size:9.8px;line-height:13px;color:#c2388f;letter-spacing:-0.053px;">февраль 2018 г.</span>
<div class="a" style="left:820px;top:552px;width:47.800px;height:18px;overflow:hidden">
<span class="t" style="left:13.40px;top:2.90px;font-size:9.8px;line-height:13px;color:#c2388f;letter-spacing:0.145px;">март 2018 г.</span>
</div>
<span class="t" style="left:381.10px;top:576.70px;font-size:9.8px;line-height:13px;color:#2b8cd6;letter-spacing:-0.142px;">ΣСумма</span>
<span class="t" style="left:477.65px;top:576.70px;font-size:9.8px;line-height:13px;color:#2b8cd6;letter-spacing:-0.008px;">ΣЗаказано</span>
<span class="t" style="left:586.25px;top:576.70px;font-size:9.8px;line-height:13px;color:#2b8cd6;letter-spacing:-0.142px;">ΣСумма</span>
<span class="t" style="left:683.05px;top:576.70px;font-size:9.8px;line-height:13px;color:#2b8cd6;letter-spacing:-0.008px;">ΣЗаказано</span>
<span class="t" style="left:791.60px;top:576.70px;font-size:9.8px;line-height:13px;color:#2b8cd6;letter-spacing:-0.142px;">ΣСумма</span>
<span class="t" style="left:249.80px;top:598.17px;font-size:10.2px;line-height:13px;color:#c2388f;letter-spacing:-0.278px;">Соковыжималка "...</span>
<span class="t" style="left:391.25px;top:598.60px;font-size:9.8px;line-height:13px;color:#4a4a4a;letter-spacing:-0.215px;">56 218 680,0</span>
<span class="t" style="left:524.78px;top:598.60px;font-size:9.8px;line-height:13px;color:#4a4a4a;letter-spacing:-0.221px;">6 374</span>
<span class="t" style="left:596.45px;top:598.60px;font-size:9.8px;line-height:13px;color:#4a4a4a;letter-spacing:-0.215px;">50 829 660,0</span>
<span class="t" style="left:730.38px;top:598.60px;font-size:9.8px;line-height:13px;color:#4a4a4a;letter-spacing:-0.221px;">5 763</span>
<span class="t" style="left:801.55px;top:598.60px;font-size:9.8px;line-height:13px;color:#4a4a4a;letter-spacing:-0.215px;">65 179 800,0</span>
<span class="t" style="left:249.80px;top:620.02px;font-size:10.2px;line-height:13px;color:#c2388f;letter-spacing:-0.494px;">Миксер SOLAC мод...</span>
<span class="t" style="left:391.25px;top:620.45px;font-size:9.8px;line-height:13px;color:#4a4a4a;letter-spacing:-0.215px;">60 804 607,5</span>
<span class="t" style="left:524.78px;top:620.45px;font-size:9.8px;line-height:13px;color:#4a4a4a;letter-spacing:-0.221px;">6 773</span>
<span class="t" style="left:596.45px;top:620.45px;font-size:9.8px;line-height:13px;color:#4a4a4a;letter-spacing:-0.215px;">54 304 897,5</span>
<span class="t" style="left:730.38px;top:620.45px;font-size:9.8px;line-height:13px;color:#4a4a4a;letter-spacing:-0.221px;">6 049</span>
<span class="t" style="left:801.55px;top:620.45px;font-size:9.8px;line-height:13px;color:#4a4a4a;letter-spacing:-0.215px;">84 819 420,0</span>
<span class="t" style="left:249.80px;top:641.87px;font-size:10.2px;line-height:13px;color:#c2388f;letter-spacing:-0.521px;">Чайник MOULINEX ...</span>
<span class="t" style="left:391.25px;top:642.30px;font-size:9.8px;line-height:13px;color:#4a4a4a;letter-spacing:-0.215px;">21 718 588,5</span>
<span class="t" style="left:519.57px;top:642.30px;font-size:9.8px;line-height:13px;color:#4a4a4a;letter-spacing:-0.225px;">14 071</span>
<span class="t" style="left:596.45px;top:642.30px;font-size:9.8px;line-height:13px;color:#4a4a4a;letter-spacing:-0.215px;">18 287 388,0</span>
<span class="t" style="left:725.87px;top:642.30px;font-size:9.8px;line-height:13px;color:#4a4a4a;letter-spacing:-0.219px;">11 848</span>
<span class="t" style="left:801.55px;top:642.30px;font-size:9.8px;line-height:13px;color:#4a4a4a;letter-spacing:-0.215px;">10 793 695,5</span>
<div class="a" style="left:1016.500px;top:94px;width:5.400px;height:491px;border-radius:3px;background:#8c8c8c"></div>
<div class="a" style="left:0;top:0;width:1px;height:653px;background:#c4c5c7"></div>
<div class="a" style="left:1023px;top:0;width:1px;height:653px;background:#d8dadd"></div>
<div class="a" style="left:0;top:652px;width:1024px;height:1px;background:#b9b9b9"></div>
<div class="a" style="left:0;top:0;width:1024px;height:1px;background:#f0f1f3"></div>
</div></body></html>
